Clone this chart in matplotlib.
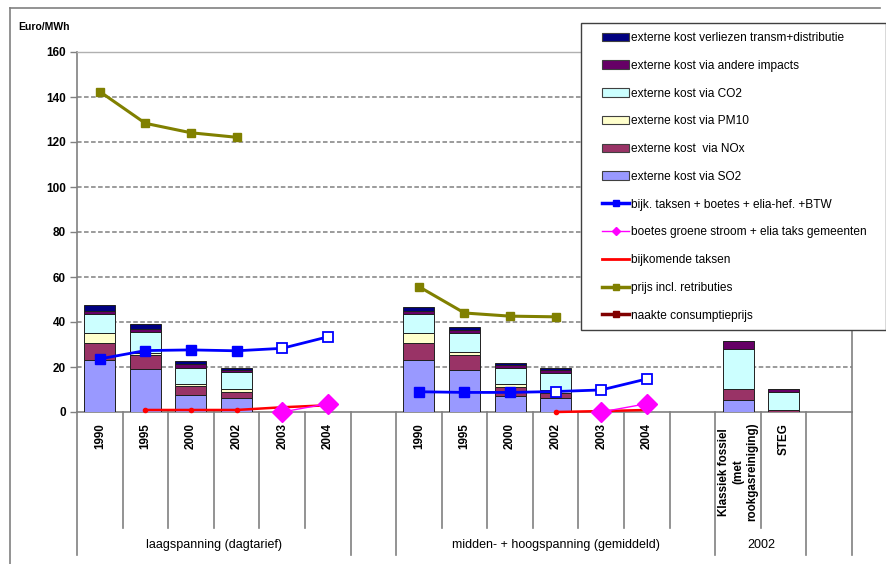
import numpy as np
import matplotlib
matplotlib.use("Agg")
import matplotlib.pyplot as plt
from matplotlib.patches import Patch, Rectangle
from matplotlib.lines import Line2D

plt.rcParams['font.family'] = ['Liberation Sans', 'DejaVu Sans']

nan = np.nan

# one slot per category, empty strings are spacer slots
categories = ['1990', '1995', '2000', '2002', '2003', '2004', '',
              '1990', '1995', '2000', '2002', '2003', '2004', '',
              'Klassiek fossiel\n(met\nrookgasreiniging)', 'STEG', '']
groups = ['laagspanning (dagtarief)', '', 'midden- + hoogspanning (gemiddeld)', '2002', '']
group_sizes = [6, 1, 7, 2, 1]

# external cost components (Euro/MWh), stacked from bottom to top
so2 = [23.1, 19.0, 7.4, 6.1, 0, 0, 0, 23.1, 18.7, 7.1, 6.1, 0, 0, 0, 5.2, 0, 0]
nox = [7.7, 6.2, 4.0, 2.9, 0, 0, 0, 7.7, 6.5, 4.2, 2.5, 0, 0, 0, 5.0, 0.9, 0]
pm10 = [4.2, 0.9, 1.2, 1.1, 0, 0, 0, 4.2, 1.6, 1.0, 1.3, 0, 0, 0, 0, 0, 0]
co2 = [8.4, 9.6, 7.1, 7.5, 0, 0, 0, 8.4, 8.5, 7.4, 7.6, 0, 0, 0, 17.8, 7.9, 0]
andere = [1.5, 1.3, 1.5, 0.9, 0, 0, 0, 1.5, 1.3, 1.0, 1.0, 0, 0, 0, 3.4, 1.3, 0]
transm = [2.7, 2.3, 1.5, 0.9, 0, 0, 0, 1.8, 1.4, 0.9, 1.0, 0, 0, 0, 0, 0, 0]

# price lines
prijs = [142.4, 128.3, 124.1, 122.1, nan, nan, nan,
         55.7, 44.0, 42.6, 42.3, nan, nan, nan, nan, nan, nan]
bijk_btw = [23.6, 27.3, 27.6, 27.2, 28.3, 33.4, nan,
            9.0, 8.7, 8.7, 9.1, 9.8, 14.7, nan, nan, nan, nan]
bijk_btw_open = [False, False, False, False, True, True, False,
                 False, False, False, True, True, True, False, False, False, False]
boetes = [nan, nan, nan, nan, 0.0, 3.7, nan,
          nan, nan, nan, nan, 0.0, 3.7, nan, nan, nan, nan]
bijkomende = [nan, 0.9, 0.9, 0.9, 2.1, 3.0, nan,
              nan, nan, nan, 0.0, 0.4, 0.9, nan, nan, nan, nan]

stack_labels = ['externe kost via SO2', 'externe kost  via NOx', 'externe kost via PM10',
                'externe kost via CO2', 'externe kost via andere impacts',
                'externe kost verliezen transm+distributie']
stack_colors = ['#9999FF', '#993366', '#FFFFCC', '#CCFFFF', '#660066', '#000080']

W, H = 887, 564
fig = plt.figure(figsize=(W / 100, H / 100), dpi=100)
ax = fig.add_axes([77 / W, 1 - 412 / H, 775 / W, 360 / H])

x = np.arange(len(categories))
bottom = np.zeros(len(categories))
for vals, col in zip([so2, nox, pm10, co2, andere, transm], stack_colors):
    vals = np.array(vals, dtype=float)
    ax.bar(x, vals, 0.68, bottom=bottom, color=col, edgecolor='#202020',
           linewidth=0.7, zorder=3)
    bottom += vals

ax.plot(x, prijs, color='#808000', lw=2.2, marker='s', ms=6, zorder=4)
ax.plot(x, bijkomende, color='#FF0000', lw=1.8, marker='o', ms=3, zorder=4, clip_on=False)
ax.plot(x, boetes, color='#FF00FF', lw=1.0, marker='D', ms=10, zorder=5, clip_on=False)
ax.plot(x, bijk_btw, color='#0000FF', lw=2.0, zorder=4)
blue = np.array(bijk_btw)
is_open = np.array(bijk_btw_open)
ax.plot(x[~is_open], blue[~is_open], ls='none', marker='s', ms=6.5,
        color='#0000FF', zorder=5)
ax.plot(x[is_open], blue[is_open], ls='none', marker='s', ms=6.5,
        mfc='white', mec='#0000FF', mew=1.3, zorder=5)

ax.set_xlim(-0.5, len(categories) - 0.5)
ax.set_ylim(0, 160)
ax.set_yticks(np.arange(0, 161, 20))
ax.set_yticklabels([str(v) for v in range(0, 161, 20)], fontsize=8.5, fontweight='bold')
ax.tick_params(axis='y', length=5, width=1, color='#808080', pad=3)
ax.set_xticks([])
for yv in range(20, 160, 20):
    ax.axhline(yv, color='#808080', lw=1.1, dashes=(3, 1.6), zorder=1)
for side in ['left', 'bottom', 'right']:
    ax.spines[side].set_color('#808080')
    ax.spines[side].set_linewidth(1.2)
ax.spines['top'].set_color('#B0B0B0')
ax.spines['top'].set_linewidth(1.0)

# category labels and separators below the axis
trans = ax.get_xaxis_transform()
for i, lab in enumerate(categories):
    if lab:
        ax.text(i, -0.03, lab, rotation=90, ha='center', va='top', fontsize=8.4,
                fontweight='bold', multialignment='center', transform=trans)
edges = np.cumsum(group_sizes) - 0.5
for i in range(len(categories) - 1):
    b = i + 0.5
    low = -0.397 if b in edges else -0.322
    ax.plot([b, b], [0, low], color='#808080', lw=1.2, transform=trans, clip_on=False)
ax.plot([-0.5, -0.5], [0, -0.397], color='#808080', lw=1.2, transform=trans, clip_on=False)
ax.plot([16.5, 16.5], [0, -0.397], color='#808080', lw=1.2, transform=trans, clip_on=False)
start = -0.5
for name, n in zip(groups, group_sizes):
    if name:
        ax.text(start + n / 2, -0.369, name, ha='center', va='center', fontsize=9,
                transform=trans)
    start += n

fig.text(18 / W, 1 - 27 / H, 'Euro/MWh', fontsize=7.5, fontweight='bold', va='center')

# outer chart frame
fig.add_artist(Line2D([10 / W, 10 / W], [0, 1 - 8 / H], color='#808080', lw=1.2))
fig.add_artist(Line2D([10 / W, 880 / W], [1 - 8 / H, 1 - 8 / H], color='#808080', lw=1.2))

# legend box
fig.add_artist(Rectangle((581 / W, 1 - 330 / H), 305 / W, 307 / H, facecolor='white',
                         edgecolor='#404040', lw=1.0, zorder=3, transform=fig.transFigure))
handles = [Patch(facecolor=c, edgecolor='#404040', lw=0.8, label=l)
           for c, l in zip(stack_colors[::-1], stack_labels[::-1])]
handles += [
    Line2D([], [], color='#0000FF', lw=2.5, marker='s', ms=5, label='bijk. taksen + boetes + elia-hef. +BTW'),
    Line2D([], [], color='#FF00FF', lw=1.0, marker='D', ms=4, label='boetes groene stroom + elia taks gemeenten'),
    Line2D([], [], color='#FF0000', lw=2.0, label='bijkomende taksen'),
    Line2D([], [], color='#808000', lw=2.5, marker='s', ms=5, label='prijs incl. retributies'),
    Line2D([], [], color='#800000', lw=2.5, marker='s', ms=5, label='naakte consumptieprijs'),
]
fig.legend(handles=handles, loc='upper left', bbox_to_anchor=(602 / W, 1 - 32 / H),
           frameon=False, fontsize=8.6, handlelength=2.3, handletextpad=0.15,
           labelspacing=1.32, borderpad=0, borderaxespad=0)

fig.savefig('out.png', dpi=100)
